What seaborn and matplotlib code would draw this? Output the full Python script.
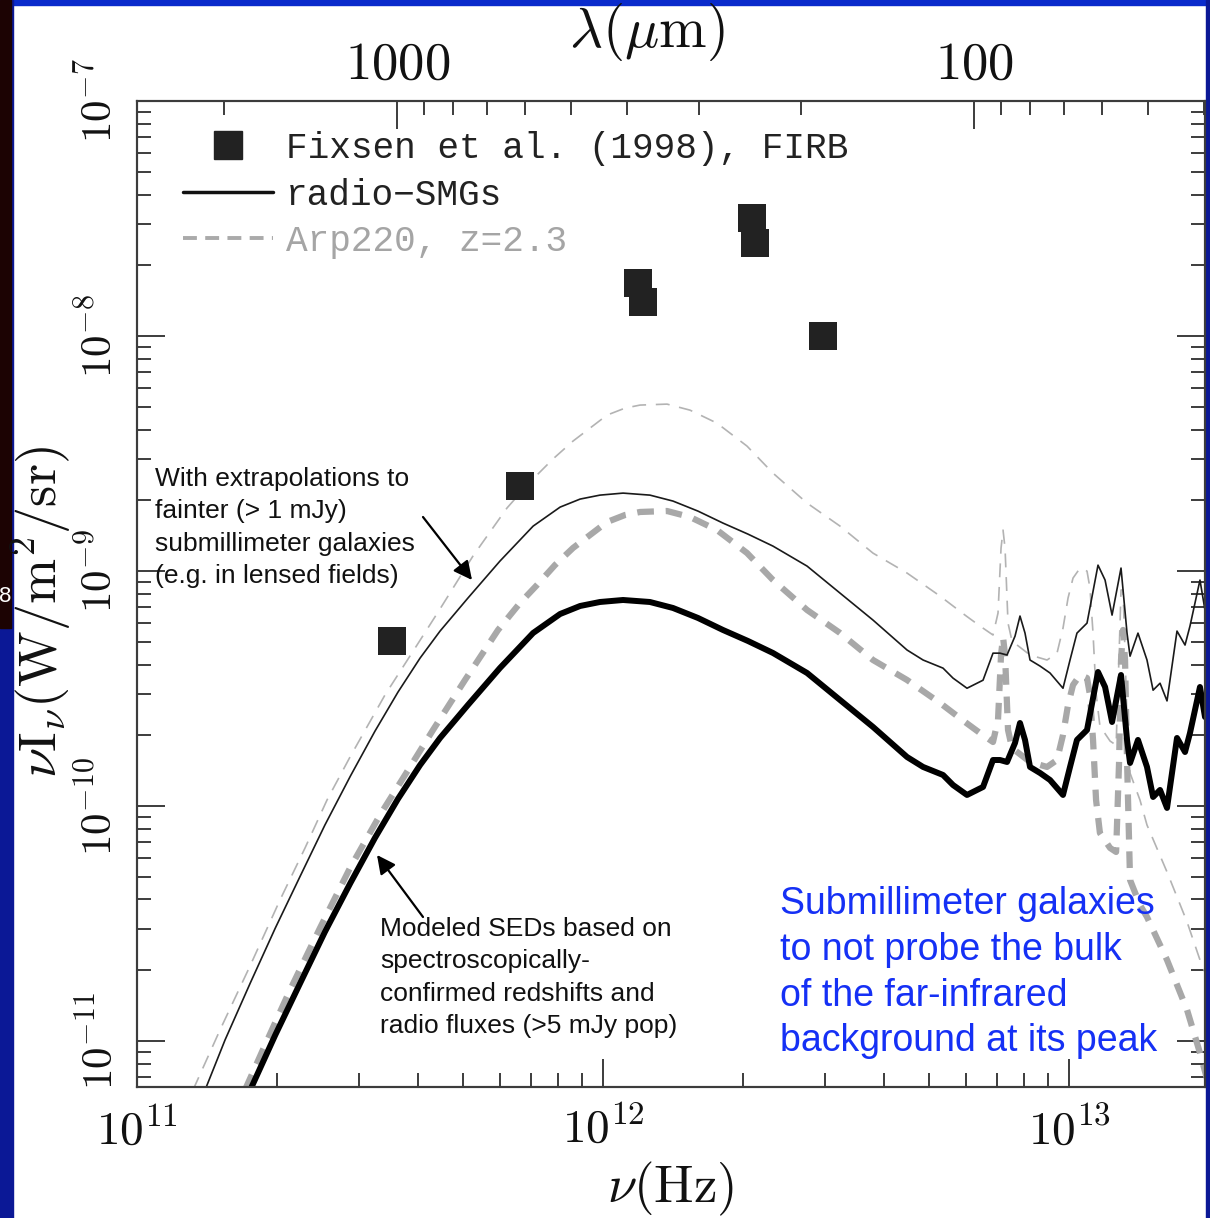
import matplotlib
matplotlib.use("Agg")
import matplotlib.pyplot as plt
from matplotlib.lines import Line2D
from matplotlib.patches import Rectangle
from matplotlib.ticker import FixedLocator, NullFormatter
import seaborn as sns

# ---------------------------------------------------------------------------
# Data: frequency (Hz) and nu*I_nu (W m^-2 sr^-1)
# ---------------------------------------------------------------------------
fixsen_nu = [3.525e11, 6.636e11, 1.189e12, 1.218e12, 2.088e12, 2.120e12, 2.966e12]
fixsen_flux = [5.04e-10, 2.30e-9, 1.68e-8, 1.40e-8, 3.18e-8, 2.49e-8, 1.0e-8]

smg_nu = [
    1.75e11, 1.98e11, 2.24e11, 2.53e11, 2.87e11, 3.24e11, 3.63e11, 4.05e11, 4.47e11, 5.13e11,
    6.01e11, 7.08e11, 8.09e11, 8.93e11, 9.85e11, 1.104e12, 1.261e12, 1.413e12, 1.599e12, 1.809e12,
    2.047e12, 2.316e12, 2.741e12, 3.226e12, 3.797e12, 4.492e12, 4.862e12, 5.366e12, 5.638e12, 6.041e12,
    6.539e12, 6.869e12, 7.111e12, 7.362e12, 7.658e12, 7.849e12, 8.046e12, 8.247e12, 8.664e12, 9.104e12,
    9.707e12, 1.005e13, 1.040e13, 1.093e13, 1.154e13, 1.195e13, 1.237e13, 1.293e13, 1.332e13, 1.352e13,
    1.406e13, 1.470e13, 1.515e13, 1.568e13, 1.623e13, 1.705e13, 1.774e13, 1.818e13, 1.910e13, 1.958e13,
]
smg_flux = [
    6.19e-12, 1.06e-11, 1.765e-11, 2.91e-11, 4.70e-11, 7.31e-11, 1.071e-10, 1.494e-10, 1.947e-10, 2.69e-10,
    3.866e-10, 5.447e-10, 6.561e-10, 7.097e-10, 7.38e-10, 7.526e-10, 7.38e-10, 6.96e-10, 6.31e-10, 5.61e-10,
    5.036e-10, 4.478e-10, 3.681e-10, 2.825e-10, 2.169e-10, 1.616e-10, 1.466e-10, 1.355e-10, 1.228e-10, 1.114e-10,
    1.205e-10, 1.569e-10, 1.569e-10, 1.539e-10, 1.854e-10, 2.255e-10, 1.910e-10, 1.466e-10, 1.382e-10, 1.290e-10,
    1.114e-10, 1.466e-10, 1.910e-10, 2.106e-10, 3.717e-10, 3.209e-10, 2.277e-10, 3.609e-10, 1.910e-10, 1.524e-10,
    1.910e-10, 1.466e-10, 1.092e-10, 1.170e-10, 9.81e-11, 1.947e-10, 1.697e-10, 2.044e-10, 3.209e-10, 2.391e-10,
]

smg_faint_nu = [
    1.40e11, 1.545e11,
    1.75e11, 1.98e11, 2.24e11, 2.53e11, 2.87e11, 3.24e11, 3.63e11, 4.05e11, 4.47e11, 5.13e11,
    6.01e11, 7.08e11, 8.09e11, 8.93e11, 9.85e11, 1.104e12, 1.261e12, 1.413e12, 1.599e12, 1.809e12,
    2.047e12, 2.316e12, 2.741e12, 3.226e12, 3.797e12, 4.492e12, 4.862e12, 5.366e12, 5.638e12, 6.041e12,
    6.539e12, 6.869e12, 7.111e12, 7.362e12, 7.658e12, 7.849e12, 8.046e12, 8.247e12, 8.664e12, 9.104e12,
    9.707e12, 1.005e13, 1.040e13, 1.093e13, 1.154e13, 1.195e13, 1.237e13, 1.293e13, 1.332e13, 1.352e13,
    1.406e13, 1.470e13, 1.515e13, 1.568e13, 1.623e13, 1.705e13, 1.774e13, 1.818e13, 1.910e13, 1.958e13,
]
smg_faint_flux = [
    6.19e-12, 1.010e-11,
    1.764e-11, 3.02e-11, 5.03e-11, 8.29e-11, 1.34e-10, 2.08e-10, 3.05e-10, 4.26e-10, 5.55e-10, 7.67e-10,
    1.102e-9, 1.552e-9, 1.870e-9, 2.023e-9, 2.103e-9, 2.145e-9, 2.103e-9, 1.984e-9, 1.798e-9, 1.599e-9,
    1.435e-9, 1.276e-9, 1.049e-9, 8.05e-10, 6.18e-10, 4.61e-10, 4.18e-10, 3.86e-10, 3.50e-10, 3.17e-10,
    3.43e-10, 4.47e-10, 4.47e-10, 4.39e-10, 5.28e-10, 6.43e-10, 5.44e-10, 4.18e-10, 3.94e-10, 3.68e-10,
    3.17e-10, 4.18e-10, 5.44e-10, 6.00e-10, 1.059e-9, 9.15e-10, 6.49e-10, 1.029e-9, 5.44e-10, 4.34e-10,
    5.44e-10, 4.18e-10, 3.11e-10, 3.33e-10, 2.80e-10, 5.55e-10, 4.84e-10, 5.83e-10, 9.15e-10, 6.81e-10,
]

arp_nu = [
    1.705e11, 1.883e11, 2.130e11, 2.470e11, 2.865e11, 3.323e11, 3.760e11, 4.317e11, 5.057e11, 5.953e11,
    6.636e11, 7.218e11, 7.888e11, 8.623e11, 9.379e11, 1.020e12, 1.115e12, 1.201e12, 1.372e12, 1.537e12,
    1.756e12, 2.037e12, 2.316e12, 2.741e12, 3.226e12, 3.797e12, 4.492e12, 5.287e12, 5.982e12, 6.442e12,
    6.869e12, 7.041e12, 7.147e12, 7.218e12, 7.290e12, 7.398e12, 7.546e12, 8.247e12, 8.971e12, 9.424e12,
    9.707e12, 9.952e12, 1.020e13, 1.056e13, 1.093e13, 1.109e13, 1.126e13, 1.143e13, 1.165e13, 1.225e13,
    1.262e13, 1.281e13, 1.293e13, 1.306e13, 1.319e13, 1.332e13, 1.352e13, 1.420e13, 1.470e13, 1.623e13,
    1.792e13, 1.910e13, 2.007e13,
]
arp_flux = [
    6.19e-12, 9.62e-12, 1.648e-11, 3.026e-11, 5.447e-11, 9.16e-11, 1.355e-10, 2.106e-10, 3.437e-10, 5.61e-10,
    7.308e-10, 8.717e-10, 1.060e-9, 1.253e-9, 1.423e-9, 1.616e-9, 1.731e-9, 1.783e-9, 1.800e-9, 1.697e-9,
    1.494e-9, 1.193e-9, 9.156e-10, 6.823e-10, 5.447e-10, 4.180e-10, 3.437e-10, 2.744e-10, 2.277e-10, 2.044e-10,
    1.872e-10, 2.323e-10, 4.391e-10, 5.237e-10, 4.391e-10, 2.106e-10, 1.765e-10, 1.539e-10, 1.466e-10, 1.569e-10,
    2.005e-10, 2.690e-10, 3.273e-10, 3.609e-10, 3.505e-10, 2.967e-10, 1.910e-10, 1.060e-10, 7.676e-11, 6.627e-11,
    6.373e-11, 1.569e-10, 4.180e-10, 5.61e-10, 4.180e-10, 1.569e-10, 4.843e-11, 3.791e-11, 3.371e-11, 2.212e-11,
    1.355e-11, 8.89e-12, 6.19e-12,
]

arp_faint_nu = [
    1.319e11, 1.507e11, 1.748e11, 2.027e11, 2.294e11, 2.557e11, 2.865e11, 3.405e11, 3.990e11, 4.469e11,
    5.260e11, 6.223e11, 6.971e11, 7.810e11,
    8.623e11, 9.379e11, 1.020e12, 1.115e12, 1.201e12, 1.372e12, 1.537e12, 1.756e12, 2.037e12, 2.316e12,
    2.741e12, 3.226e12, 3.797e12, 4.492e12, 5.287e12, 5.982e12, 6.442e12, 6.869e12, 7.041e12, 7.147e12,
    7.218e12, 7.290e12, 7.398e12, 7.546e12, 8.247e12, 8.971e12, 9.424e12, 9.707e12, 9.952e12, 1.020e13,
    1.056e13, 1.093e13, 1.109e13, 1.126e13, 1.143e13, 1.165e13, 1.225e13, 1.262e13, 1.281e13, 1.293e13,
    1.306e13, 1.319e13, 1.332e13, 1.352e13,
    1.420e13, 1.470e13, 1.623e13, 1.792e13, 1.910e13, 2.007e13,
]
arp_faint_flux = [
    6.19e-12, 1.114e-11, 2.085e-11, 3.981e-11, 6.627e-11, 1.060e-10, 1.616e-10, 2.967e-10, 4.843e-10, 6.891e-10,
    1.158e-9, 1.854e-9, 2.391e-9, 2.997e-9,
    3.571e-9, 4.056e-9, 4.606e-9, 4.933e-9, 5.082e-9, 5.130e-9, 4.836e-9, 4.258e-9, 3.400e-9, 2.609e-9,
    1.945e-9, 1.552e-9, 1.191e-9, 9.80e-10, 7.82e-10, 6.49e-10, 5.83e-10, 5.34e-10, 6.62e-10, 1.251e-9,
    1.493e-9, 1.251e-9, 6.00e-10, 5.03e-10, 4.39e-10, 4.18e-10, 4.47e-10, 5.71e-10, 7.67e-10, 9.33e-10,
    1.029e-9, 9.99e-10, 8.46e-10, 5.44e-10, 3.02e-10, 2.188e-10, 1.889e-10, 1.816e-10, 4.47e-10, 8.30e-10,
    8.30e-10, 4.47e-10, 2.323e-10, 1.380e-10,
    1.060e-10, 8.30e-11, 5.237e-11, 3.209e-11, 2.212e-11, 1.731e-11,
]

x_major = [1e11, 1e12, 1e13]
x_major_labels = [r"$10^{11}$", r"$10^{12}$", r"$10^{13}$"]
y_major = [1e-11, 1e-10, 1e-9, 1e-8, 1e-7]
y_major_labels = [r"$10^{-11}$", r"$10^{-10}$", r"$10^{-9}$", r"$10^{-8}$", r"$10^{-7}$"]
lam_major = [1000, 100]
lam_major_labels = [r"$1000$", r"$100$"]
lam_minor = [2000, 900, 800, 700, 600, 500, 400, 300, 200, 90, 80, 70, 60, 50, 40]

legend_labels = ["Fixsen et al. (1998), FIRB", "radio\u2212SMGs", "Arp220, z=2.3"]

# ---------------------------------------------------------------------------
# Style
# ---------------------------------------------------------------------------
sns.set_style("white")
plt.rcParams["font.family"] = ["DejaVu Serif"]
plt.rcParams["mathtext.fontset"] = "cm"
plt.rcParams["lines.scale_dashes"] = False

W, H = 1210, 1218
fig = plt.figure(figsize=(W / 100, H / 100), dpi=100, facecolor="white")


def fx(px):
    return px / W


def fy(py):
    return 1 - py / H


# slide frame around the figure
fig.add_artist(Rectangle((0, fy(5)), 1, 5 / H, transform=fig.transFigure,
                         color="#0a2bcc", zorder=0))
fig.add_artist(Rectangle((0, 0), 13 / W, 1, transform=fig.transFigure,
                         color="#0b1896", zorder=0))
fig.add_artist(Rectangle((0, fy(628)), 11 / W, 628 / H, transform=fig.transFigure,
                         color="#1c0303", zorder=0))
fig.add_artist(Rectangle((fx(1206), 0), 4 / W, 1, transform=fig.transFigure,
                         color="#0b1896", zorder=0))
fig.text(fx(11), fy(597), "8", color="white", fontsize=16,
         family=["Liberation Sans", "DejaVu Sans"], ha="right", va="center")

ax = fig.add_axes([fx(137), fy(1087), (1205 - 137) / W, (1087 - 101) / H])
ax.set_facecolor("white")
ax.set_xscale("log")
ax.set_yscale("log")
ax.set_xlim(1e11, 1.958e13)
ax.set_ylim(6.37e-12, 1e-7)

thin_gray = "#b3b3b3"
thick_gray = "#a8a8a8"

# Arp220 templates (faint extrapolation and radio-SMG normalisation)
sns.lineplot(x=arp_faint_nu, y=arp_faint_flux, ax=ax, estimator=None, sort=False,
             color=thin_gray, linewidth=1.2, legend=False)
ax.lines[-1].set_dashes((10, 7))
sns.lineplot(x=arp_nu, y=arp_flux, ax=ax, estimator=None, sort=False,
             color=thick_gray, linewidth=4.5, legend=False)
ax.lines[-1].set_dashes((12, 8.5))
ax.lines[-1].set_dash_capstyle("butt")

# radio-SMG model SEDs
sns.lineplot(x=smg_faint_nu, y=smg_faint_flux, ax=ax, estimator=None, sort=False,
             color="#1a1a1a", linewidth=1.2, legend=False)
sns.lineplot(x=smg_nu, y=smg_flux, ax=ax, estimator=None, sort=False,
             color="#000000", linewidth=4.3, legend=False)

# FIRB measurements
sns.scatterplot(x=fixsen_nu, y=fixsen_flux, ax=ax, marker="s", s=20 ** 2,
                color="#222222", edgecolor="none", zorder=5, legend=False)

# axes styling
spine_col = "#3c3c3c"
for sp in ax.spines.values():
    sp.set_color(spine_col)
    sp.set_linewidth(1.5)

ax.set_xticks(x_major)
ax.set_xticklabels(x_major_labels)
ax.xaxis.set_minor_locator(FixedLocator([k * 10.0 ** n for n in (11, 12) for k in range(2, 10)]))
ax.xaxis.set_minor_formatter(NullFormatter())
ax.set_yticks(y_major)
ax.set_yticklabels(y_major_labels)
ax.yaxis.set_minor_locator(FixedLocator([k * 10.0 ** n for n in (-12, -11, -10, -9, -8) for k in range(2, 10)]))
ax.yaxis.set_minor_formatter(NullFormatter())

ax.tick_params(which="both", direction="in", color=spine_col, width=1.4,
               top=False, right=True, bottom=True, left=True)
ax.tick_params(which="major", length=20)
ax.tick_params(which="minor", length=10)
ax.tick_params(axis="x", which="major", labelsize=34, pad=15, labelcolor="#111111")
ax.tick_params(axis="y", which="major", labelsize=31, pad=11, labelcolor="#111111",
               labelrotation=90)
for lab in ax.get_yticklabels():
    lab.set_va("center")
ax.set_xlabel("")
ax.set_ylabel("")

# wavelength axis on top
ax2 = ax.twiny()
ax2.set_xscale("log")
ax2.set_xlim(2829, 39.8)
ax2.xaxis.set_major_locator(FixedLocator(lam_major))
ax2.set_xticklabels(lam_major_labels)
ax2.xaxis.set_minor_locator(FixedLocator(lam_minor))
ax2.xaxis.set_minor_formatter(NullFormatter())
ax2.tick_params(axis="x", which="both", direction="in", color=spine_col, width=1.4,
                top=True, bottom=False, labeltop=True, labelbottom=False)
ax2.tick_params(axis="x", which="major", length=20, labelsize=38, pad=8, labelcolor="#111111")
ax2.tick_params(axis="x", which="minor", length=10)
for sp in ax2.spines.values():
    sp.set_color(spine_col)
    sp.set_linewidth(1.5)

# axis titles
fig.text(fx(670), fy(1189), r"$\nu(\mathrm{Hz})$", fontsize=38, ha="center", va="center",
         color="#111111")
fig.text(fx(647), fy(32), r"$\lambda(\mu\mathrm{m})$", fontsize=41, ha="center", va="center",
         color="#111111")
fig.text(fx(41), fy(612), r"$\nu\mathrm{I}_\nu(\mathrm{W/m^2/sr})$", fontsize=39,
         ha="center", va="center", rotation=90, color="#111111")

# legend
handles = [
    Line2D([], [], marker="s", linestyle="none", markersize=20, color="#222222"),
    Line2D([], [], color="#111111", linewidth=2.5),
    Line2D([], [], color="#aaaaaa", linewidth=2.8, dashes=(10, 6)),
]
leg = ax.legend(handles, legend_labels, loc="upper left",
                bbox_to_anchor=(fx(183), fy(131)), bbox_transform=fig.transFigure,
                frameon=False, borderpad=0, borderaxespad=0, handlelength=2.5,
                handletextpad=0.35, labelspacing=0.32,
                prop={"family": ["Liberation Mono", "DejaVu Sans Mono"], "size": 26})
for txt, col in zip(leg.get_texts(), ["#222222", "#222222", "#a5a5a5"]):
    txt.set_color(col)

# annotations
ann_font = ["Liberation Sans", "DejaVu Sans"]
fig.text(fx(155), fy(467),
         "With extrapolations to\nfainter (> 1 mJy)\nsubmillimeter galaxies\n(e.g. in lensed fields)",
         family=ann_font, fontsize=19, ha="left", va="top", linespacing=1.44, color="#111111")
fig.text(fx(380), fy(917),
         "Modeled SEDs based on\nspectroscopically-\nconfirmed redshifts and\nradio fluxes (>5 mJy pop)",
         family=ann_font, fontsize=19, ha="left", va="top", linespacing=1.44, color="#111111")
fig.text(fx(780), fy(886),
         "Submillimeter galaxies\nto not probe the bulk\nof the far-infrared\nbackground at its peak",
         family=ann_font, fontsize=27, ha="left", va="top", linespacing=1.35, color="#1530f5")

arrow = dict(arrowstyle="-|>", color="black", lw=1.6, mutation_scale=28, shrinkA=0, shrinkB=0)
ax.annotate("", xy=(472, H - 580), xycoords="figure pixels",
            xytext=(423, H - 517), textcoords="figure pixels", arrowprops=arrow)
ax.annotate("", xy=(377, H - 855), xycoords="figure pixels",
            xytext=(423, H - 917), textcoords="figure pixels", arrowprops=arrow)

fig.savefig("out.png", dpi=100)
